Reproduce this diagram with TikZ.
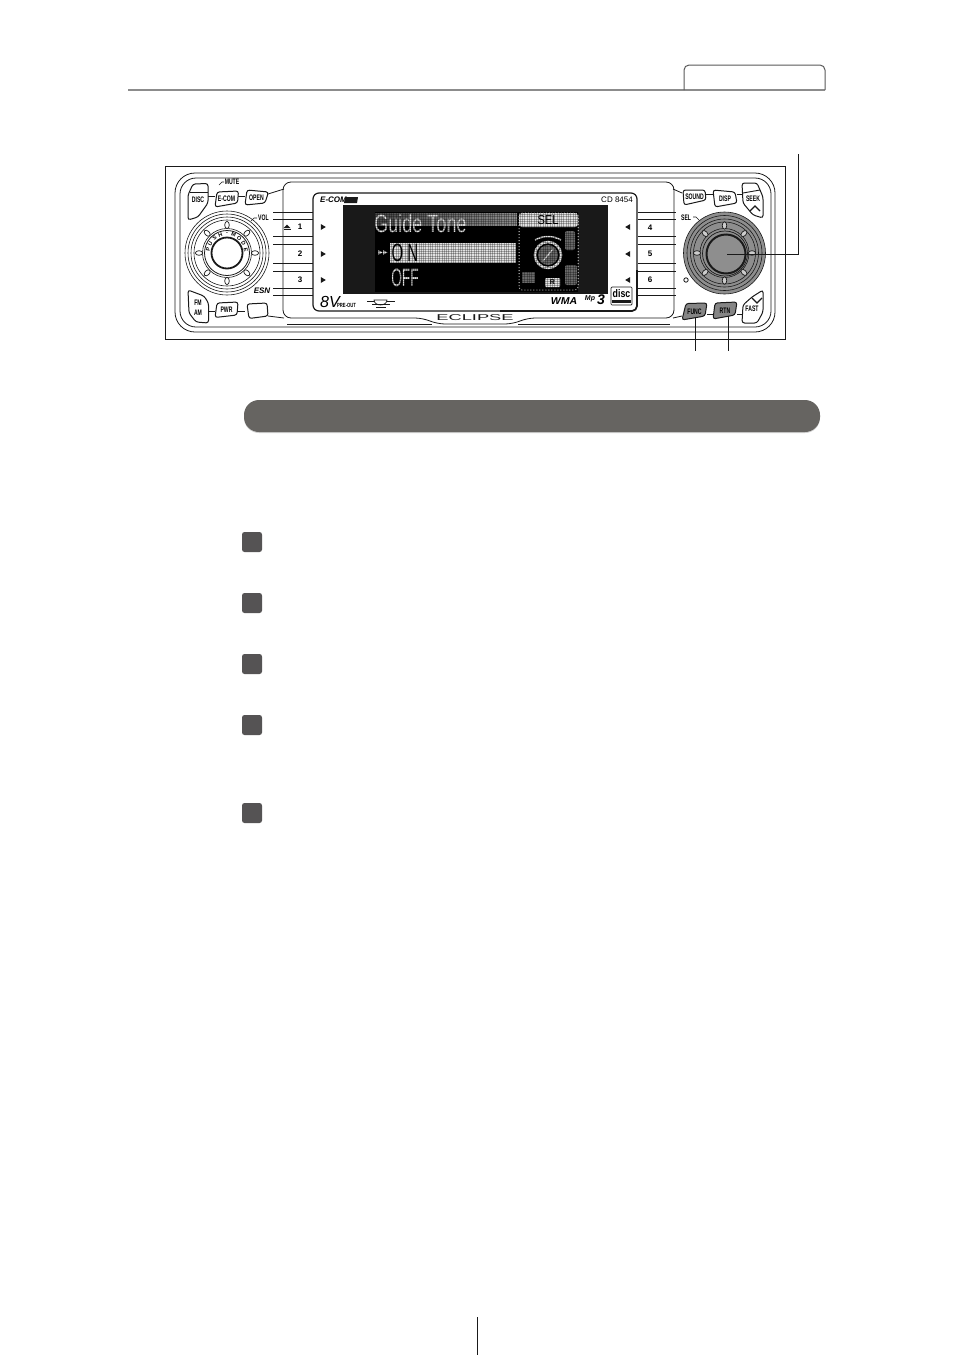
\documentclass[tikz,border=0pt]{standalone}
\usepackage{fontspec}
\setmainfont{Liberation Sans}
\definecolor{knobg}{HTML}{8E8E8E}
\definecolor{keyg}{HTML}{858585}
\definecolor{lcdg}{HTML}{E2E2E2}
\definecolor{lcdd}{HTML}{6A6A6A}
\definecolor{pill}{HTML}{666461}
\definecolor{sq}{HTML}{555354}
\definecolor{ink}{HTML}{1A1A1A}
\tikzset{
  plate/.style={draw=ink,line width=.8pt,rounded corners=#1},
  keycap/.style={draw=ink,line width=1pt,fill=white,rounded corners=2.5pt},
  keyfill/.style={draw=ink,line width=1pt,fill=keyg,rounded corners=2.5pt},
  keylabel/.style={inner sep=0pt,font=\fontsize{8}{8}\selectfont\bfseries,xscale=.64},
  steplabel/.style={inner sep=0pt,font=\fontsize{8}{8}\selectfont\bfseries},
  presetline/.style={draw=ink,line width=1pt},
  lcdtext/.style={inner sep=0pt,text=lcdg,font=\fontsize{25}{25}\selectfont},
  leader/.style={draw=ink,line width=.9pt},
  numsq/.style={fill=sq,rounded corners=2.5pt},
  ringline/.style={draw=ink,line width=.6pt},
}
\newcommand{\keyq}[6]{% style, tl, tr, br, bl, name
  \path[#1] (#2) -- (#3) -- (#4) -- (#5) -- cycle;
  \coordinate (#6) at (#2);
}
\begin{document}
\begin{tikzpicture}[x=1pt,y=-1pt]
\useasboundingbox (0,0) rectangle (954,1355);
\fill[white] (0,0) rectangle (954,1355);

% header
\coordinate (hdrL) at (128,90);
\coordinate (hdrR) at (825,90);
\draw[draw=black!45,line width=1.2pt] (hdrL) -- (hdrR);
\draw[draw=black!65,line width=1pt,rounded corners=5pt] (684,90) -- (684,65) -- (825,65) -- (825,90);

% faceplate
\draw[ink,line width=1pt] (165,166) rectangle (785,339);
\draw[plate=20pt] (175,173) rectangle (775,332);
\draw[plate=16pt] (180,178) rectangle (771,327);

% central housing
\draw[ink,line width=.8pt,fill=white,rounded corners=8pt] (283,182) -- (674,182) -- (674,318) -- (527,318) -- (513,324) -- (437,324) -- (423,318) -- (283,318) -- cycle;
\draw[ink,line width=.8pt] (287,324) -- (432,324);
\draw[ink,line width=.8pt] (518,324) -- (670,324);

% preset bars
\foreach \y in {212,219,236,244,263,271,288,295}{
  \draw[presetline] (273,\y) -- (313,\y);
  \draw[presetline] (638,\y) -- (676,\y);
}
% display window
\draw[draw=ink,line width=1.2pt,fill=white,rounded corners=6pt] (313,193) rectangle (637,311);
\draw[ink,line width=1.6pt,rounded corners=5pt] (637,270) -- (637,311) -- (500,311);
\fill[black!90] (343,205) rectangle (608,294);

% LCD
\fill[black] (375,212) rectangle (578,292);
\shade[left color=lcdd!70!black,right color=black!45] (375,213) rectangle (517,225);
\fill[lcdg] (390,243) rectangle (516,263);
\node[lcdtext,xscale=.72] (lcdTitle) at (420.5,224) {Guide Tone};
\node[lcdtext,text=black,xscale=.6] (lcdOn) at (405,253) {O N};
\node[lcdtext,xscale=.55] (lcdOff) at (405,278) {OFF};
\node[inner sep=0pt,text=lcdg,font=\fontsize{6}{6}\selectfont] (lcdMark) at (383,253) {\fontspec{DejaVu Sans}▶▶};
% LCD right panel
\draw[lcdg,line width=1pt,dotted,rounded corners=3pt] (519,213) rectangle (578,290);
\fill[lcdg,rounded corners=3pt] (519,213) rectangle (578,227);
\node[inner sep=0pt,text=black,font=\fontsize{13}{13}\selectfont,xscale=.85] (lcdSel) at (548,220) {SEL};
\draw[lcdg,line width=2.5pt] (548,255) circle (13);
\fill[lcdd] (548,255) circle (10);
\draw[lcdg,line width=1.2pt] (543,261) -- (553,249);
\draw[lcdg,line width=1.5pt] (535,240) arc (240:300:26);
\fill[lcdd,rounded corners=2pt] (565,231) rectangle (575,250);
\fill[lcdd,rounded corners=2pt] (565,265) rectangle (577,285);
\fill[lcdd] (522,272) rectangle (535,283);
\fill[lcdg,rounded corners=1pt] (545,278) rectangle (560,287);
\node[inner sep=0pt,text=black,font=\fontsize{7}{7}\selectfont\bfseries] (lcdR) at (552.5,282.5) {R};
% LCD dot grid
\foreach \i in {0,...,88}{
  \draw[black,opacity=.28,line width=.4pt] ({375+\i*2.3},212) -- ({375+\i*2.3},292);
}
\foreach \i in {0,...,34}{
  \draw[black,opacity=.28,line width=.4pt] (375,{212+\i*2.3}) -- (578,{212+\i*2.3});
}

% display captions
\node[inner sep=0pt,font=\fontsize{8}{8}\selectfont\bfseries\itshape,anchor=west] (ecom) at (320,200) {E-COM};
\fill[ink] (345,197) -- (358,197) -- (357,203) -- (344,203) -- cycle;
\node[inner sep=0pt,font=\fontsize{8}{8}\selectfont,anchor=east] (cd) at (633,200) {CD 8454};
\node[inner sep=0pt,font=\fontsize{16}{16}\selectfont\itshape,anchor=west] (eightv) at (320,302) {8V};
\node[inner sep=0pt,font=\fontsize{6}{6}\selectfont\bfseries,xscale=.7,anchor=west] (preout) at (337,305) {PRE-OUT};
\draw[ink,line width=.7pt] (367,301) -- (395,301);
\draw[ink,line width=.7pt,fill=white] (374,300) arc (180:0:6.5 and 5) -- cycle;
\draw[ink,line width=.6pt] (372,304) -- (390,304) (376,307) -- (386,307);
\node[inner sep=0pt,font=\fontsize{10}{10}\selectfont\bfseries\itshape,xscale=1.05] (wma) at (564,301) {WMA};
\node[inner sep=0pt,font=\fontsize{7}{7}\selectfont\bfseries\itshape] (mp) at (590,298.5) {Mp};
\node[inner sep=0pt,font=\fontsize{14}{14}\selectfont\bfseries\itshape] (three) at (601,300) {3};
\draw[ink,line width=.7pt,fill=white,rounded corners=1pt] (611,287) rectangle (632,305);
\node[inner sep=0pt,font=\fontsize{11}{11}\selectfont\bfseries,xscale=.8] (disclogo) at (621.5,294) {disc};
\fill[ink] (612,300) rectangle (631,303);
\node[inner sep=0pt,font=\fontsize{8.5}{9}\selectfont,xscale=2.15,text=ink] (eclipse) at (475,317.5) {ECLIPSE};

% preset labels
\foreach \n/\x/\y/\l in {p1/300/227/1,p2/300/254/2,p3/300/280/3,p4/650/228/4,p5/650/254/5,p6/650/280/6}{
  \node[steplabel] (\n) at (\x,\y) {\l};
}
\fill[ink] (283.5,228) -- (287,224.5) -- (290.5,228) -- cycle;
\fill[ink] (283.5,229) rectangle (290.5,230);
\foreach \n/\x/\y in {a1/323/227,a2/323/254,a3/323/280}{
  \fill[ink] (\x-2.2,\y-3) -- (\x+2.8,\y) -- (\x-2.2,\y+3) -- cycle;
  \coordinate (\n) at (\x,\y);
}
\foreach \n/\x/\y in {a4/628/227,a5/628/254,a6/628/280}{
  \fill[ink] (\x+2.2,\y-3) -- (\x-2.8,\y) -- (\x+2.2,\y+3) -- cycle;
  \coordinate (\n) at (\x,\y);
}

% left knob
\foreach \r in {42,39,36,33}{\draw[ringline] (227,253) circle (\r);}
\draw[ringline] (227,253) circle (24.5);
\foreach \a in {0,45,...,315}{
  \draw[ink,line width=.7pt,fill=white,rotate around={\a:(227,253)}] (255,253) ellipse (3.6 and 2.3);
}
\draw[ink,line width=.8pt] (227,253) circle (22.5);
\draw[ink,line width=1.8pt,fill=white] (227,253) circle (15.5);
\foreach \c [count=\i] in {P,U,S,H,-,M,O,D,E}{
  \pgfmathsetmacro{\aa}{-170+(\i-1)*20}
  \node[inner sep=0pt,font=\fontsize{5.5}{6}\selectfont\bfseries,rotate={-\aa-90}] at ({227+19.2*cos(\aa)},{253+19.2*sin(\aa)}) {\c};
}
\node[inner sep=0pt,font=\fontsize{8}{8}\selectfont\bfseries\itshape] (esn) at (262,291) {ESN};
\node[keylabel,anchor=west] (vol) at (258,218) {VOL};
\draw[ink,line width=.6pt] (251,221) -- (254,218) -- (257,218);

% right knob
\fill[knobg] (724.5,253) circle (41);
\foreach \r in {41,37.5,34,31}{\draw[ringline] (724.5,253) circle (\r);}
\draw[ringline] (724.5,253) circle (24.5);
\foreach \a in {0,45,...,315}{
  \draw[ink,line width=.7pt,fill=white!55!knobg,rotate around={\a:(724.5,253)}] (752,253) ellipse (3.6 and 2.3);
}
\draw[ink,line width=.7pt] (725,253.5) circle (22.5);
\draw[ink,line width=2pt,fill=knobg] (726,254) circle (19.5);
\coordinate (knobR) at (727,254);
\node[keylabel,anchor=west] (sel) at (681,218) {SEL};
\draw[ink,line width=.6pt] (693,217) -- (696,217) -- (699,220);
\draw[ink,line width=.8pt] (686,280) circle (2.2);

% links between keys (drawn beneath the keys)
\draw[ink,line width=.8pt] (208,196) -- (215,196);
\draw[ink,line width=.8pt] (238,196) -- (245,196);
\draw[ink,line width=.8pt] (268,194) -- (284,189);
\draw[ink,line width=.8pt] (208,311) -- (215,311);
\draw[ink,line width=.8pt] (238,311) -- (245,311);
\draw[ink,line width=.8pt] (268,316) -- (284,318);
\draw[ink,line width=.8pt] (673,189) -- (682,193);
\draw[ink,line width=.8pt] (706,194) -- (713,194);
\draw[ink,line width=.8pt] (737,194) -- (743,194);
\draw[ink,line width=.8pt] (673,318) -- (682,316);
\draw[ink,line width=.8pt] (707,314) -- (713,314);
\draw[ink,line width=.8pt] (737,314) -- (742,314);

% keys
\path[keycap] (193,184) -- (208,183.5) -- (208,203) -- (198,217) -- (188,220) -- (188,195) -- cycle;
\draw[ink,line width=.9pt] (190,192) -- (208,192);
\coordinate (kDisc) at (198,200);
\node[keylabel] (lDisc) at (198,199.5) {DISC};
\keyq{keycap}{217,192}{238.5,191}{237.5,203}{215,207}{kEcom}
\node[keylabel] (lEcom) at (226.5,198.5) {E-COM};
\keyq{keycap}{247,190}{268.5,192}{265,203}{245,205}{kOpen}
\node[keylabel] (lOpen) at (256.5,197.5) {OPEN};
\path[keycap] (188,290) -- (204,296) -- (208.5,303) -- (208.5,323) -- (196,322) -- (189,313) -- cycle;
\coordinate (kFm) at (198,306);
\node[keylabel] (lFm) at (198,303) {FM};
\node[keylabel] (lAm) at (198,313) {AM};
\keyq{keycap}{217,303}{238,302}{237,315}{215,317.5}{kPwr}
\node[keylabel] (lPwr) at (226.5,309.5) {PWR};
\keyq{keycap}{247,304}{267,303}{268,316}{249,318.5}{kBlank}
\keyq{keycap}{683,190}{705,190}{706,200}{684,205}{kSound}
\node[keylabel] (lSound) at (694.5,197) {SOUND};
\keyq{keycap}{713,190}{735,192}{737,203}{715,207}{kDisp}
\node[keylabel] (lDisp) at (725,198.5) {DISP};
\path[keycap] (742,183) -- (757,183) -- (763,197) -- (763,218) -- (753,215) -- (743,203) -- cycle;
\coordinate (kSeek) at (753,200);
\draw[ink,line width=.9pt] (743,193) -- (760,190);
\node[keylabel] (lSeek) at (753,199) {SEEK};
\draw[ink,line width=1.1pt] (750,211) -- (755,206) -- (760,211);
\path[keycap] (763,290) -- (763,312) -- (757,323) -- (742,323) -- (743,305) -- (752,297) -- cycle;
\coordinate (kFast) at (752,308);
\node[keylabel] (lFast) at (752,308.5) {FAST};
\draw[ink,line width=1.1pt] (752,298) -- (757,303) -- (762,298);
\keyq{keyfill}{686,303.5}{707,303}{705,316}{682,320}{kFunc}
\node[keylabel] (lFunc) at (694.5,311.5) {FUNC};
\keyq{keyfill}{715,303}{737,302}{735,315}{713,319}{kRtn}
\node[keylabel] (lRtn) at (725,310.5) {RTN};
\node[keylabel] (mute) at (232,182) {MUTE};
\draw[ink,line width=.6pt] (219,185) -- (222,182) -- (224,182);

% leaders
\coordinate (leadTop) at (798.5,154);
\coordinate (leadCorner) at (798.5,254);
\coordinate (leadFunc) at (695,351);
\coordinate (leadRtn) at (728,351);
\draw[leader] (knobR) -- (leadCorner) -- (leadTop);
\draw[leader] (695,317) -- (leadFunc);
\draw[leader] (728,316) -- (leadRtn);

% section pill
\fill[black!18,rounded corners=15pt] (244,401) rectangle (820,433);
\fill[pill,rounded corners=15pt] (244,400) rectangle (820,432);

% number squares
\foreach \n/\y in {s1/532,s2/593,s3/654,s4/715,s5/803}{
  \path[numsq] (242,\y) rectangle (262,\y+20);
  \coordinate (\n) at (252,\y+10);
}

% footer
\coordinate (ftA) at (477,1317);
\coordinate (ftB) at (477,1355);
\draw[ink,line width=.8pt] (ftA) -- (ftB);
\end{tikzpicture}
\end{document}
